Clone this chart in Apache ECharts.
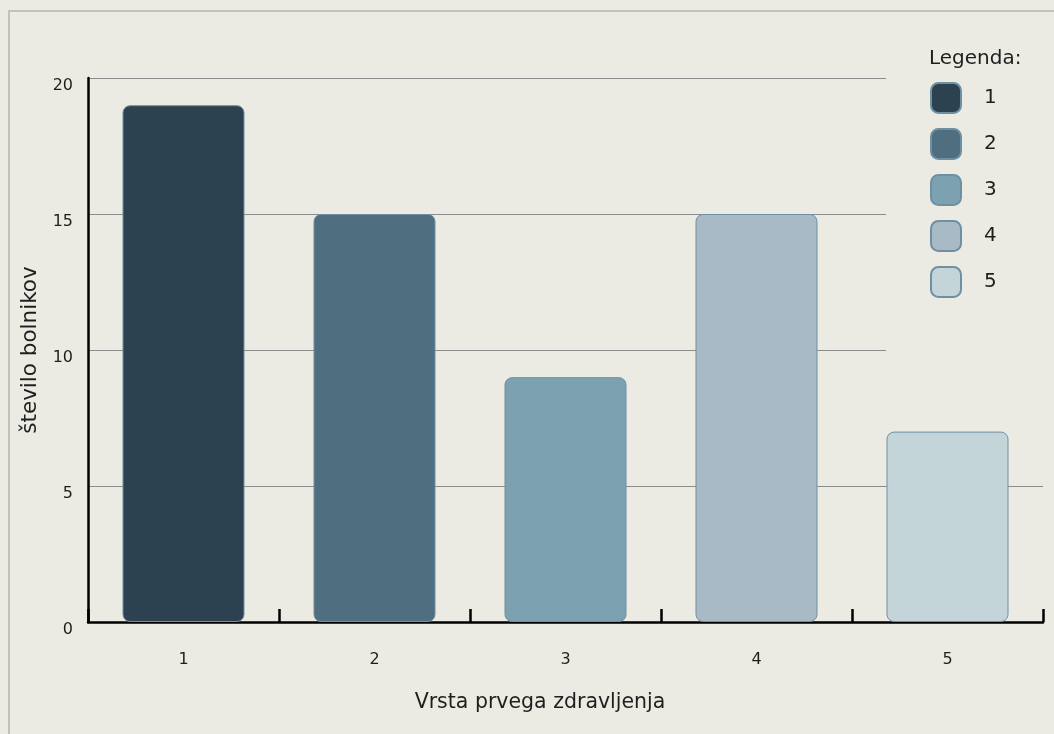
<!DOCTYPE html>
<html>
<head>
<meta charset="utf-8">
<script src="https://cdn.jsdelivr.net/npm/echarts@6/dist/echarts.min.js"></script>
<style>
  html, body { margin: 0; padding: 0; background: #ebebe4; }
  #chart { width: 1054px; height: 734px; }
</style>
</head>
<body>
<div id="chart"></div>
<script>
// Vrste prvega zdravljenja in število bolnikov
const categories = ['1', '2', '3', '4', '5'];
const patientCounts = [19, 15, 9, 15, 7];
const seriesNames = ['1', '2', '3', '4', '5'];
const barColors = ['#2c4250', '#4f6e80', '#7ca2b2', '#a8bac5', '#c4d5da'];
const yTicks = { min: 0, max: 20, interval: 5 };

const FONT = 'DejaVu Sans';
const TEXT = '#1e1e1e';

// one series per treatment type so that each gets its own legend entry
const series = seriesNames.map((name, i) => ({
  name: name,
  type: 'bar',
  stack: 'all',
  xAxisIndex: 0,
  yAxisIndex: 0,
  barWidth: 122,
  data: categories.map((c, j) => (j === i ? patientCounts[j] : '-')),
  itemStyle: {
    color: barColors[i],
    borderColor: '#6f8fa2',
    borderWidth: 1,
    borderRadius: 7
  }
}));

const chart = echarts.init(document.getElementById('chart'), null, { renderer: 'canvas' });

chart.setOption({
  backgroundColor: '#ebebe4',
  animation: false,
  textStyle: { fontFamily: FONT },
  graphic: [
    {
      type: 'rect', z: -10, silent: true,
      shape: { x: 9, y: 11, width: 1200, height: 900 },
      style: { fill: '#ebebe4', stroke: '#c2c2b6', lineWidth: 2 }
    },
    {
      type: 'text', left: 929, top: 49,
      style: { text: 'Legenda:', font: '20px "DejaVu Sans"', fill: TEXT }
    },
    {
      type: 'text', x: 540, y: 703,
      style: {
        text: 'Vrsta prvega zdravljenja', font: '20.5px "DejaVu Sans"', fill: TEXT,
        align: 'center', verticalAlign: 'middle'
      }
    }
  ],
  legend: {
    orient: 'vertical',
    left: 930,
    top: 82,
    padding: 0,
    itemWidth: 30,
    itemHeight: 30,
    itemGap: 14,
    icon: 'roundRect',
    data: seriesNames,
    textStyle: { fontFamily: FONT, fontSize: 20, color: TEXT, padding: [0, 0, 0, 18] }
  },
  grid: [
    { left: 88, right: 11, top: 78, bottom: 112 },
    { left: 88, right: 168, top: 78, bottom: 112 }
  ],
  xAxis: [
    {
      gridIndex: 0,
      type: 'category',
      data: categories,
      axisLine: { show: true, lineStyle: { color: '#000', width: 2.5 } },
      axisTick: { show: true, inside: true, length: 13, lineStyle: { color: '#000', width: 2.5 } },
      axisLabel: { margin: 30, fontSize: 16, color: TEXT, fontFamily: FONT },
      splitLine: { show: false }
    },
    {
      gridIndex: 1,
      type: 'category',
      data: categories,
      show: false
    }
  ],
  yAxis: [
    {
      gridIndex: 0,
      type: 'value',
      min: yTicks.min,
      max: yTicks.max,
      interval: yTicks.interval,
      name: 'število bolnikov',
      nameLocation: 'middle',
      nameGap: 44,
      nameTextStyle: { fontSize: 21.5, color: TEXT, fontFamily: FONT },
      axisLine: { show: true, lineStyle: { color: '#000', width: 2.5 } },
      axisTick: { show: false },
      axisLabel: { margin: 15, fontSize: 16, color: TEXT, fontFamily: FONT, verticalAlign: 'top' },
      splitLine: {
        show: true,
        lineStyle: { color: ['transparent', '#8c8c8c', 'transparent', 'transparent', 'transparent'], width: 1 }
      }
    },
    {
      gridIndex: 1,
      type: 'value',
      min: yTicks.min,
      max: yTicks.max,
      interval: yTicks.interval,
      axisLine: { show: false },
      axisTick: { show: false },
      axisLabel: { show: false },
      splitLine: {
        show: true,
        lineStyle: { color: ['transparent', 'transparent', '#8c8c8c', '#8c8c8c', '#8c8c8c'], width: 1 }
      }
    }
  ],
  series: series
});
</script>
</body>
</html>
